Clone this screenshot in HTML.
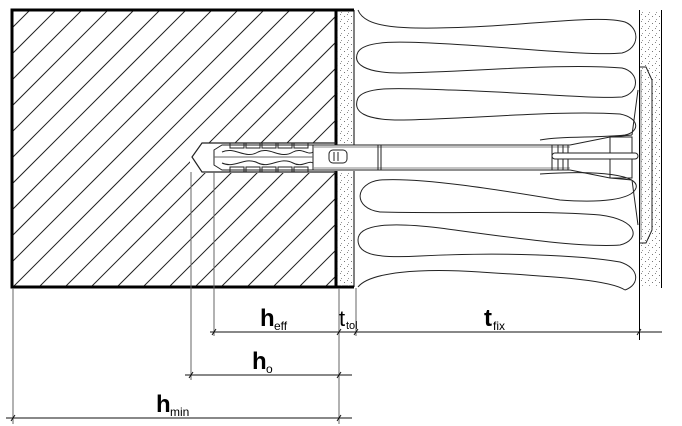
<!DOCTYPE html>
<html><head><meta charset="utf-8"><style>
html,body{margin:0;padding:0;background:#fff;width:682px;height:426px;overflow:hidden}
svg text{font-family:"Liberation Sans",sans-serif}
.b{font-weight:bold}
.s{font-weight:normal}
</style></head><body>
<svg width="682" height="426" viewBox="0 0 682 426" xmlns="http://www.w3.org/2000/svg">
<defs>
<clipPath id="cb"><rect x="13" y="11" width="323" height="275"/></clipPath>
<pattern id="dots" width="7" height="7" patternUnits="userSpaceOnUse">
<rect x="1" y="2" width="1" height="1" fill="#777"/><rect x="5" y="5" width="1" height="1" fill="#999"/><rect x="4" y="0" width="1" height="1" fill="#888"/>
</pattern>
</defs>
<g clip-path="url(#cb)" stroke="#222" stroke-width="1">
<path d="M-260 300 L40 0 M-234 300 L66 0 M-208 300 L92 0 M-182 300 L118 0 M-156 300 L144 0 M-130 300 L170 0 M-104 300 L196 0 M-78 300 L222 0 M-52 300 L248 0 M-26 300 L274 0 M0 300 L300 0 M26 300 L326 0 M52 300 L352 0 M78 300 L378 0 M104 300 L404 0 M130 300 L430 0 M156 300 L456 0 M182 300 L482 0 M208 300 L508 0 M234 300 L534 0 M260 300 L560 0 M286 300 L586 0 M312 300 L612 0"/>
</g>
<rect x="190" y="143" width="147" height="30" fill="#fff"/>
<rect x="12" y="10" width="324" height="277" fill="none" stroke="#000" stroke-width="3"/>
<line x1="336" y1="10" x2="354" y2="10" stroke="#000" stroke-width="3"/>
<line x1="336" y1="287" x2="354" y2="287" stroke="#000" stroke-width="3"/>
<rect x="337" y="11" width="17" height="276" fill="url(#dots)"/>
<line x1="354" y1="10" x2="354" y2="287" stroke="#000"/>
<rect x="640" y="11" width="21" height="276" fill="url(#dots)"/>
<line x1="639.5" y1="10" x2="639.5" y2="340" stroke="#000"/>
<line x1="661.5" y1="10" x2="661.5" y2="288" stroke="#000"/>
<g fill="none" stroke="#222" stroke-width="1">
<path d="M358 10 C365 28,400 30,470 27 C540 24,600 15,625 22 C640 28,640 48,622 53 C590 56,520 48,450 44 C400 41,365 40,358 52 C352 64,365 73,400 73 C470 72,560 63,622 68 C640 72,640 93,622 97 C590 99,520 92,450 90 C400 88,365 86,358 98 C352 112,365 120,400 120 C470 119,560 110,620 114 C640 118,640 132,625 135 C600 138,560 136,540 140"/>
<path d="M540 174 C600 170,640 175,636 188 C632 200,600 203,560 200 C500 190,420 177,380 180 C355 183,352 208,380 212 C450 214,540 210,600 215 C640 220,640 240,620 245 C580 248,500 236,440 228 C390 222,358 224,358 240 C358 256,380 258,420 256 C500 252,580 255,620 262 C640 268,640 285,625 290"/>
<path d="M358 287 C370 272,420 268,480 272 C560 277,610 280,625 290"/>
</g>
<g fill="none" stroke="#222" stroke-width="1.2">
<path d="M336 143 L202 143 L192 157 L202 172 L336 172"/>
</g>
<rect x="214" y="145" width="406" height="26" fill="#fff"/>
<g fill="none" stroke="#222" stroke-width="1">
<path d="M214 150 L222 145 L313 145 L313 170 L222 170 L214 165 Z"/>
<path d="M230 143 h14 v5 h-14z M246 143 h14 v5 h-14z M262 143 h14 v5 h-14z M278 143 h14 v5 h-14z M294 143 h14 v5 h-14z"/>
<path d="M230 167 h14 v5 h-14z M246 167 h14 v5 h-14z M262 167 h14 v5 h-14z M278 167 h14 v5 h-14z M294 167 h14 v5 h-14z"/>
<path d="M222 152 C235 146,245 160,258 152 C270 146,280 160,293 152 C302 147,308 156,313 152"/>
<path d="M222 163 C235 169,245 156,258 163 C270 169,280 156,293 163 C302 168,308 160,313 163"/>
<line x1="214" y1="157" x2="313" y2="157" stroke="#666"/>
<path d="M313 145 L570 145 M313 170 L570 170"/>
<path d="M313 147 L570 147 M313 168 L570 168" stroke="#888"/>
<rect x="329" y="150" width="18" height="13" rx="4"/>
<path d="M334 152 v9 M338 152 v9"/>
<path d="M378 145 v25 M381 145 v25"/>
<path d="M552 145 v25 M558 145 v25 M563 145 v25 M568 145 v25"/>
<path d="M570 145 L610 137 L632 135 M570 170 L610 178 L632 180"/>
<rect x="610" y="137" width="22" height="41"/>
<rect x="552" y="153" width="86" height="6" rx="3" fill="#fff"/>
<path d="M632 135 L638 90 M632 180 L638 225"/>
<path d="M640 67 L646 67 L652 80 L652 230 L646 243 L640 243"/>
<line x1="641" y1="70" x2="641" y2="240" stroke="#888"/>
</g>
<g stroke="#666" stroke-width="1">
<line x1="13" y1="288" x2="13" y2="424"/>
<line x1="191" y1="172" x2="191" y2="380"/>
<line x1="214" y1="172" x2="214" y2="336"/>
<line x1="339" y1="288" x2="339" y2="424"/>
<line x1="356" y1="288" x2="356" y2="336"/>
</g>
<g stroke="#111" stroke-width="1">
<line x1="210" y1="332" x2="662" y2="332"/>
<line x1="185" y1="375" x2="352" y2="375"/>
<line x1="6" y1="418" x2="352" y2="418"/>
<path d="M212 335 l4 -6 M337 335 l4 -6 M354 335 l4 -6 M637 335 l4 -6 M189 378 l4 -6 M337 378 l4 -6 M11 421 l4 -6 M337 421 l4 -6"/>
</g>
<text class="b" x="260" y="326" font-size="24">h</text>
<text class="s" x="274" y="330" font-size="12">eff</text>
<text class="s" x="339" y="326" font-size="22">t</text>
<text class="s" x="346" y="329" font-size="11">tol</text>
<text class="b" x="484" y="326" font-size="24">t</text>
<text class="s" x="493" y="330" font-size="12">fix</text>
<text class="b" x="252" y="369" font-size="24">h</text>
<text class="s" x="266" y="373" font-size="12">o</text>
<text class="b" x="156" y="412" font-size="24">h</text>
<text class="s" x="170" y="416" font-size="12">min</text>
</svg>
</body></html>
